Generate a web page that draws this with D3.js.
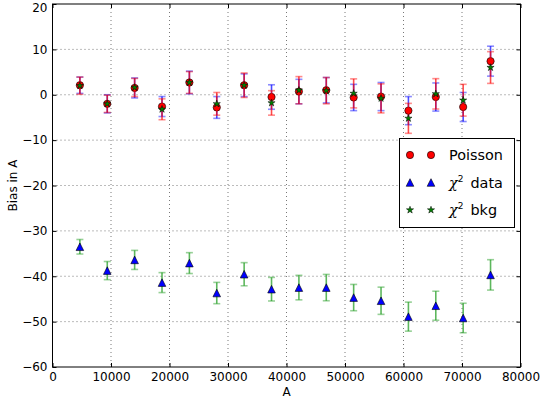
<!DOCTYPE html>
<html>
<head>
<meta charset="utf-8">
<script src="https://cdn.jsdelivr.net/npm/d3@7"></script>
<style>
  body { margin: 0; background: #fff; }
  text { font-family: "DejaVu Sans", sans-serif; }
</style>
</head>
<body>
<div id="chart"></div>
<script>
// bin centres in A
const binA = [4680, 9360, 14040, 18720, 23400, 28080, 32760, 37440, 42120, 46800, 51480, 56160, 60840, 65520, 70200, 74880];
// Poisson fit bias (red circles, blue error bars)
const poissonBias = [2.1, -2.0, 1.5, -2.6, 2.7, -2.8, 2.1, -0.5, 0.7, 1.0, -0.6, -0.4, -3.5, -0.5, -2.7, 7.4];
const poissonErr = [1.8, 2.0, 2.2, 2.2, 2.5, 2.4, 2.5, 2.7, 2.7, 2.8, 2.9, 3.1, 3.1, 3.1, 3.2, 3.3];
// chi2 fit to data (blue triangles, green error bars)
const chi2DataBias = [-33.5, -38.75, -36.4, -41.4, -37.1, -43.7, -39.55, -42.85, -42.5, -42.5, -44.7, -45.4, -48.9, -46.5, -49.2, -39.7];
const chi2DataErr = [1.6, 2.0, 2.1, 2.2, 2.3, 2.35, 2.55, 2.6, 2.7, 2.9, 2.9, 3.0, 3.2, 3.2, 3.25, 3.35];
// chi2 fit to bkg (green stars, red error bars)
const chi2BkgBias = [2.0, -2.0, 1.6, -3.2, 2.7, -2.0, 2.1, -1.8, 1.0, 0.9, 0.3, -0.8, -5.2, 0.2, -1.2, 6.0];
const chi2BkgErr = [1.9, 1.9, 2.0, 2.3, 2.4, 2.5, 2.7, 2.7, 3.0, 2.9, 3.2, 3.2, 3.3, 3.35, 3.5, 3.5];

const xTicks = [0, 10000, 20000, 30000, 40000, 50000, 60000, 70000, 80000];
const yTicks = [-60, -50, -40, -30, -20, -10, 0, 10, 20];

const margin = {top: 4, right: 22.5, bottom: 37, left: 52.5},
  W = 543, H = 404,
  width = W - margin.left - margin.right,
  height = H - margin.top - margin.bottom;

const svg = d3.select("#chart").append("svg")
  .attr("width", W)
  .attr("height", H);

const g = svg.append("g")
  .attr("transform", `translate(${margin.left},${margin.top})`);

const x = d3.scaleLinear().domain([0, 80000]).range([0, width]);
const y = d3.scaleLinear().domain([-60, 20]).range([height, 0]);

// grid
g.append("g").selectAll("line").data(xTicks.slice(1, -1)).join("line")
  .attr("x1", d => x(d)).attr("x2", d => x(d))
  .attr("y1", 0).attr("y2", height)
  .attr("stroke", "#555").attr("stroke-width", 0.8).attr("stroke-dasharray", "1,3");
g.append("g").selectAll("line").data(yTicks.slice(1, -1)).join("line")
  .attr("y1", d => y(d)).attr("y2", d => y(d))
  .attr("x1", 0).attr("x2", width)
  .attr("stroke", "#555").attr("stroke-width", 0.8).attr("stroke-dasharray", "1,3");

// axes, ticks pointing inwards
const xAxisG = g.append("g")
  .attr("transform", `translate(0,${height})`)
  .call(d3.axisBottom(x).tickValues(xTicks).tickFormat(d3.format("d")).tickSizeInner(-4).tickSizeOuter(0).tickPadding(5));
const yAxisG = g.append("g")
  .call(d3.axisLeft(y).tickValues(yTicks).tickFormat(d => d < 0 ? "\u2212" + (-d) : d).tickSizeInner(-4).tickSizeOuter(0).tickPadding(5));
g.append("g")
  .call(d3.axisTop(x).tickValues(xTicks).tickFormat("").tickSizeInner(-4).tickSizeOuter(0));
g.append("g")
  .attr("transform", `translate(${width},0)`)
  .call(d3.axisRight(y).tickValues(yTicks).tickFormat("").tickSizeInner(-4).tickSizeOuter(0));
g.selectAll(".domain").remove();
g.selectAll(".tick text").style("font-size", "12px").attr("fill", "#000");
g.selectAll(".tick line").attr("stroke", "#000");
// keep the top label inside the window
yAxisG.selectAll(".tick text").filter(d => d === 20).attr("dy", "0.62em");

g.append("rect")
  .attr("width", width).attr("height", height)
  .attr("fill", "none").attr("stroke", "#000").attr("stroke-width", 1);

svg.append("text")
  .attr("x", margin.left + width / 2)
  .attr("y", 396)
  .attr("text-anchor", "middle")
  .style("font-size", "12px")
  .text("A");
svg.append("text")
  .attr("transform", `translate(17,${margin.top + height / 2}) rotate(-90)`)
  .attr("text-anchor", "middle")
  .style("font-size", "12px")
  .text("Bias in A");

// error bars + markers
const drawSeries = (vals, errs, barColor, marker) => {
  const rows = binA.map((a, i) => ({a, v: vals[i], e: errs[i]}));
  const eb = g.append("g").selectAll("g").data(rows).join("g");
  eb.append("line")
    .attr("x1", d => x(d.a)).attr("x2", d => x(d.a))
    .attr("y1", d => y(d.v + d.e)).attr("y2", d => y(d.v - d.e))
    .attr("stroke", barColor).attr("stroke-width", 1.6).attr("opacity", 0.7);
  [1, -1].forEach(s => {
    eb.append("line")
      .attr("x1", d => x(d.a) - 3.5).attr("x2", d => x(d.a) + 3.5)
      .attr("y1", d => y(d.v + s * d.e)).attr("y2", d => y(d.v + s * d.e))
      .attr("stroke", barColor).attr("stroke-width", 1.6).attr("opacity", 0.45);
  });
  marker(g.append("g").selectAll("path").data(rows).join("path")
    .attr("transform", d => `translate(${x(d.a)},${y(d.v)})`));
};

const circleMark = sel => sel.attr("d", d3.symbol(d3.symbolCircle).size(42)())
  .attr("fill", "#ff0000").attr("stroke", "#000").attr("stroke-width", 0.6);
const triPath = "M0,-3.8L3.8,3.8L-3.8,3.8Z";
const triMark = sel => sel.attr("d", triPath)
  .attr("fill", "#0000ff").attr("stroke", "#000").attr("stroke-width", 0.6);
const starMark = sel => sel.attr("d", d3.symbol(d3.symbolStar).size(16)())
  .attr("fill", "#008000").attr("stroke", "#000").attr("stroke-width", 0.5);

drawSeries(poissonBias, poissonErr, "#0000ff", circleMark);
drawSeries(chi2DataBias, chi2DataErr, "#1a9a1a", triMark);
drawSeries(chi2BkgBias, chi2BkgErr, "#ff0000", starMark);

// legend
const legend = svg.append("g");
legend.append("rect")
  .attr("x", 399.5).attr("y", 138.5).attr("width", 115).attr("height", 89)
  .attr("fill", "#fff").attr("stroke", "#000").attr("stroke-width", 1);
const legendItems = [
  {label: "Poisson", mark: circleMark},
  {label: "data", mark: triMark, chi: true},
  {label: "bkg", mark: starMark, chi: true}
];
legendItems.forEach((it, i) => {
  const cy = 155 + i * 27.5;
  [410, 431].forEach(cx => it.mark(legend.append("path").attr("transform", `translate(${cx},${cy})`)));
  const t = legend.append("text")
    .attr("x", 449).attr("y", cy + 5)
    .style("font-size", "14.4px");
  if (it.chi) {
    t.append("tspan").style("font-family", "'DejaVu Serif', serif").style("font-style", "italic").text("\u03c7");
    t.append("tspan").attr("dy", -6).style("font-size", "9px").text("2");
    t.append("tspan").attr("dy", 6).attr("dx", 7).text(it.label);
  } else {
    t.text(it.label);
  }
});
</script>
</body>
</html>
